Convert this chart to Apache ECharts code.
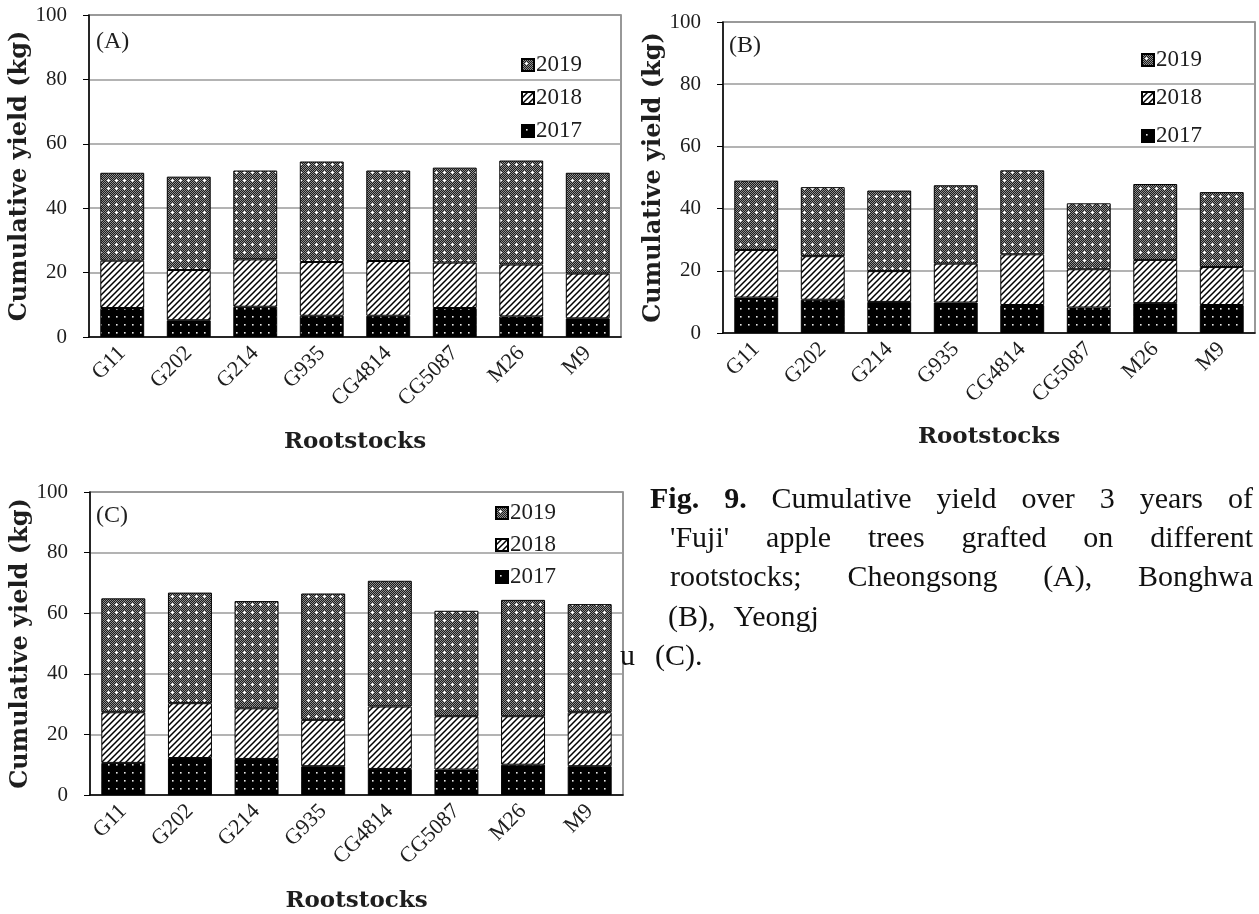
<!DOCTYPE html>
<html>
<head>
<meta charset="utf-8">
<script src="https://cdn.jsdelivr.net/npm/echarts@6/dist/echarts.min.js"></script>
<style>
  html, body { margin: 0; padding: 0; background: #fff; }
  #chart { width: 1259px; height: 914px; }
</style>
</head>
<body>
<div id="chart"></div>
<script>
// Rootstock cultivars on the category axis
const rootstocks = ['G11', 'G202', 'G214', 'G935', 'CG4814', 'CG5087', 'M26', 'M9'];
const years = ['2017', '2018', '2019'];
const yTicks = [0, 20, 40, 60, 80, 100];

// Annual yield per tree (kg), stacked into cumulative totals
// (A) Cheongsong
const cheongsong2017 = [9.0, 5.2, 9.4, 6.6, 6.6, 9.0, 6.4, 5.8];
const cheongsong2018 = [14.7, 15.6, 14.7, 16.7, 17.0, 14.1, 16.1, 13.9];
const cheongsong2019 = [27.3, 29.0, 27.6, 31.2, 28.1, 29.5, 32.3, 31.3];
// (B) Bonghwa
const bonghwa2017 = [11.4, 10.7, 10.0, 9.8, 9.0, 8.2, 9.6, 9.0];
const bonghwa2018 = [15.3, 14.0, 9.9, 12.5, 16.3, 12.3, 13.9, 12.2];
const bonghwa2019 = [22.3, 22.2, 25.9, 25.2, 27.0, 21.2, 24.4, 24.1];
// (C) Yeongju
const yeongju2017 = [10.6, 12.2, 11.9, 9.5, 8.6, 8.4, 10.0, 9.5];
const yeongju2018 = [16.7, 18.1, 16.7, 15.3, 20.6, 17.6, 16.0, 17.8];
const yeongju2019 = [37.6, 36.5, 35.4, 41.7, 41.5, 34.8, 38.4, 35.7];

// Caption words; bold words carry a flag
const captionLines = [
  [['Fig.', true], ['9.', true], 'Cumulative', 'yield', 'over', '3', 'years', 'of'],
  ["'Fuji'", 'apple', 'trees', 'grafted', 'on', 'different'],
  ['rootstocks;', 'Cheongsong', '(A),', 'Bonghwa'],
  ['(B),', 'Yeongj'],
  ['u', '(C).']
];

// ---- fill patterns for the three years ----
function tile(w, h, draw) {
  const c = document.createElement('canvas');
  c.width = w; c.height = h;
  draw(c.getContext('2d'), w, h);
  return c;
}
// 2017: black with small white dots
const dotTile = tile(8, 8, (g) => {
  g.fillStyle = '#000'; g.fillRect(0, 0, 8, 8);
  g.fillStyle = '#e8e8e8'; g.fillRect(4, 4, 1.6, 1.6);
});
// 2018: white with black forward diagonals
const hatchTile = tile(6, 6, (g, w, h) => {
  g.fillStyle = '#fff'; g.fillRect(0, 0, w, h);
  g.strokeStyle = '#000'; g.lineWidth = 1.5;
  g.beginPath();
  for (let k = 0; k <= 2; k++) {
    g.moveTo(-1, k * w + 1); g.lineTo(k * w + 1, -1);
  }
  g.stroke();
});
// 2019: fine dark dither with white crosses
const speckleTile = tile(8, 8, (g) => {
  for (let x = 0; x < 8; x++) {
    for (let y = 0; y < 8; y++) {
      g.fillStyle = (x + y) % 2 ? '#1c1c1c' : '#8e8e8e';
      g.fillRect(x, y, 1, 1);
    }
  }
  g.fillStyle = '#fff';
  g.fillRect(3, 4, 3, 1);
  g.fillRect(4, 3, 1, 3);
});
const fills = {
  '2017': { image: dotTile, repeat: 'repeat' },
  '2018': { image: hatchTile, repeat: 'repeat' },
  '2019': { image: speckleTile, repeat: 'repeat' }
};

// ---- panel layout ----
const panels = [
  { tag: '(A)', data: [cheongsong2017, cheongsong2018, cheongsong2019],
    grid: { left: 89, top: 15, width: 532, height: 322 },
    yGap: 53, xGap: 94, legend: { left: 516, top: 48, itemGap: 9 }, tagPos: [96, 43] },
  { tag: '(B)', data: [bonghwa2017, bonghwa2018, bonghwa2019],
    grid: { left: 723, top: 22, width: 532, height: 311 },
    yGap: 50, xGap: 93, legend: { left: 1136, top: 43, itemGap: 14 }, tagPos: [729, 47] },
  { tag: '(C)', data: [yeongju2017, yeongju2018, yeongju2019],
    grid: { left: 90, top: 492, width: 533, height: 309 },
    yGap: 54, xGap: 95, legend: { left: 490, top: 496, itemGap: 8 }, tagPos: [96, 517] }
];

const serif = '"Liberation Serif", "Times New Roman", serif';
const titleFont = '"DejaVu Serif", serif';
const ink = '#1e1e1e';

const grids = [], xAxes = [], yAxes = [], series = [], legends = [], graphics = [];

panels.forEach((p, i) => {
  grids.push(Object.assign({ show: true, borderColor: '#777', borderWidth: 1.5, containLabel: false }, p.grid));
  xAxes.push({
    type: 'category', gridIndex: i, data: rootstocks,
    name: 'Rootstocks', nameLocation: 'middle', nameGap: p.xGap,
    nameTextStyle: { fontFamily: titleFont, fontWeight: 'bold', fontSize: 23, color: ink },
    axisLine: { lineStyle: { color: '#000', width: 1.5 } },
    axisTick: { alignWithLabel: true, length: 6, lineStyle: { color: '#000' } },
    axisLabel: { rotate: 45, margin: 13, fontFamily: serif, fontSize: 22, color: ink }
  });
  yAxes.push({
    type: 'value', gridIndex: i,
    min: yTicks[0], max: yTicks[yTicks.length - 1], interval: yTicks[1] - yTicks[0],
    name: 'Cumulative yield (kg)', nameLocation: 'middle', nameGap: p.yGap,
    nameTextStyle: { fontFamily: titleFont, fontWeight: 'bold', fontSize: 24, color: ink },
    axisLine: { show: true, lineStyle: { color: '#000', width: 1.5 } },
    axisTick: { show: true, length: 6, lineStyle: { color: '#000' } },
    axisLabel: { margin: 22, fontFamily: serif, fontSize: 21, color: ink },
    splitLine: { lineStyle: { color: '#9a9a9a', width: 1.5 } }
  });
  years.forEach((yr, k) => {
    series.push({
      type: 'bar', name: yr, xAxisIndex: i, yAxisIndex: i, stack: 'total' + i,
      data: p.data[k], barCategoryGap: '34%',
      itemStyle: { color: fills[yr], borderColor: '#000', borderWidth: 1 },
      emphasis: { disabled: true }
    });
  });
  legends.push({
    orient: 'vertical', left: p.legend.left, top: p.legend.top, itemGap: p.legend.itemGap,
    data: ['2019', '2018', '2017'], icon: 'rect', itemWidth: 12, itemHeight: 12,
    selectedMode: false,
    textStyle: { fontFamily: serif, fontSize: 23, color: ink, lineHeight: 24, padding: [0, 0, 0, -3] }
  });
  graphics.push({
    type: 'text', left: p.tagPos[0], top: p.tagPos[1] - 13,
    style: { text: p.tag, font: '24px ' + serif, fill: ink }
  });
});

// ---- caption, justified word by word ----
const capSize = 30;
const measure = document.createElement('canvas').getContext('2d');
function capFont(bold) { return (bold ? 'bold ' : '') + capSize + 'px ' + serif; }
function wordInfo(w) { return Array.isArray(w) ? { t: w[0], b: w[1] } : { t: w, b: false }; }
const capLayout = [
  { x0: 650, x1: 1253, y: 500, justify: true, gap: 0 },
  { x0: 670, x1: 1253, y: 539, justify: true, gap: 0 },
  { x0: 670, x1: 1253, y: 578, justify: true, gap: 0 },
  { x0: 668, x1: 0, y: 618, justify: false, gap: 18 },
  { x0: 620, x1: 0, y: 657, justify: false, gap: 20 }
];
captionLines.forEach((line, li) => {
  const lay = capLayout[li];
  const words = line.map(wordInfo);
  const widths = words.map(w => { measure.font = capFont(w.b); return measure.measureText(w.t).width; });
  const total = widths.reduce((a, b) => a + b, 0);
  const gap = lay.justify ? (lay.x1 - lay.x0 - total) / (words.length - 1) : lay.gap;
  let x = lay.x0;
  words.forEach((w, k) => {
    graphics.push({
      type: 'text', x: x, y: lay.y,
      style: { text: w.t, font: capFont(w.b), fill: '#111', textVerticalAlign: 'middle' }
    });
    x += widths[k] + gap;
  });
});

const chart = echarts.init(document.getElementById('chart'), null, { renderer: 'canvas' });
chart.setOption({
  animation: false,
  backgroundColor: '#fff',
  grid: grids,
  xAxis: xAxes,
  yAxis: yAxes,
  legend: legends,
  series: series,
  graphic: graphics
});
</script>
</body>
</html>
